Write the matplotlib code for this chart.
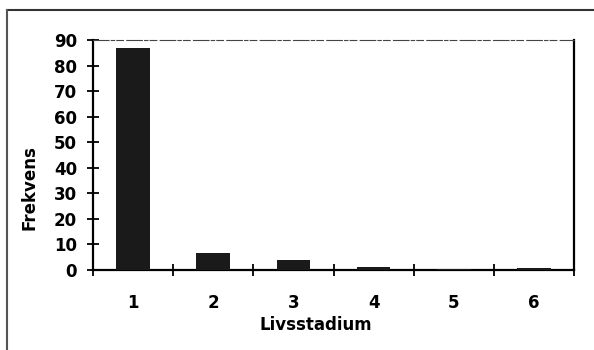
import matplotlib.pyplot as plt
from matplotlib.lines import Line2D

plt.rcParams['font.family'] = ['DejaVu Sans']
plt.rcParams['font.weight'] = 'bold'

# Frekvens per livsstadium
stadier = [1, 2, 3, 4, 5, 6]
frekvens = [87, 6.5, 4, 1.3, 0.4, 0.8]
yticks = [0, 10, 20, 30, 40, 50, 60, 70, 80, 90]

fig = plt.figure(figsize=(5.94, 3.5), dpi=100)
ax = fig.add_axes([0.1566, 0.2286, 0.8097, 0.6571])

ax.bar(stadier, frekvens, width=0.42, color='#1a1a1a', zorder=3)

ax.set_xlim(0.5, 6.5)
ax.set_ylim(0, 90)
ax.set_yticks(yticks)

# tick marks between categories, labels under the bars
ax.set_xticks([s - 0.5 for s in stadier] + [6.5])
ax.set_xticklabels([])
ax.set_xticks(stadier, minor=True)
ax.set_xticklabels([str(s) for s in stadier], minor=True)
ax.tick_params(axis='x', which='minor', length=0, pad=17, labelsize=12)
ax.tick_params(axis='x', which='major', direction='inout', length=9, width=1.3)
ax.tick_params(axis='y', direction='inout', length=9, width=1.3, labelsize=12, pad=7)

for side in ['left', 'bottom', 'right']:
    ax.spines[side].set_linewidth(1.6)
ax.spines['top'].set_linewidth(0.8)
ax.spines['top'].set_color('#444444')
ax.spines['top'].set_linestyle((0, (14, 2, 3, 2, 6, 3)))

ax.set_ylabel('Frekvens', fontsize=12, fontweight='bold')
ax.yaxis.set_label_coords(-0.113, 0.36)
ax.set_xlabel('Livsstadium', fontsize=12, fontweight='bold')
ax.xaxis.set_label_coords(0.464, -0.2)

# ytre ramme
fig.add_artist(Line2D([7 / 594, 1], [1 - 10 / 350, 1 - 10 / 350], color='#333333', lw=1.5,
                      transform=fig.transFigure))
fig.add_artist(Line2D([7 / 594, 7 / 594], [0, 1 - 10 / 350], color='#555555', lw=1.5,
                      transform=fig.transFigure))

fig.savefig('out.png', dpi=100)
